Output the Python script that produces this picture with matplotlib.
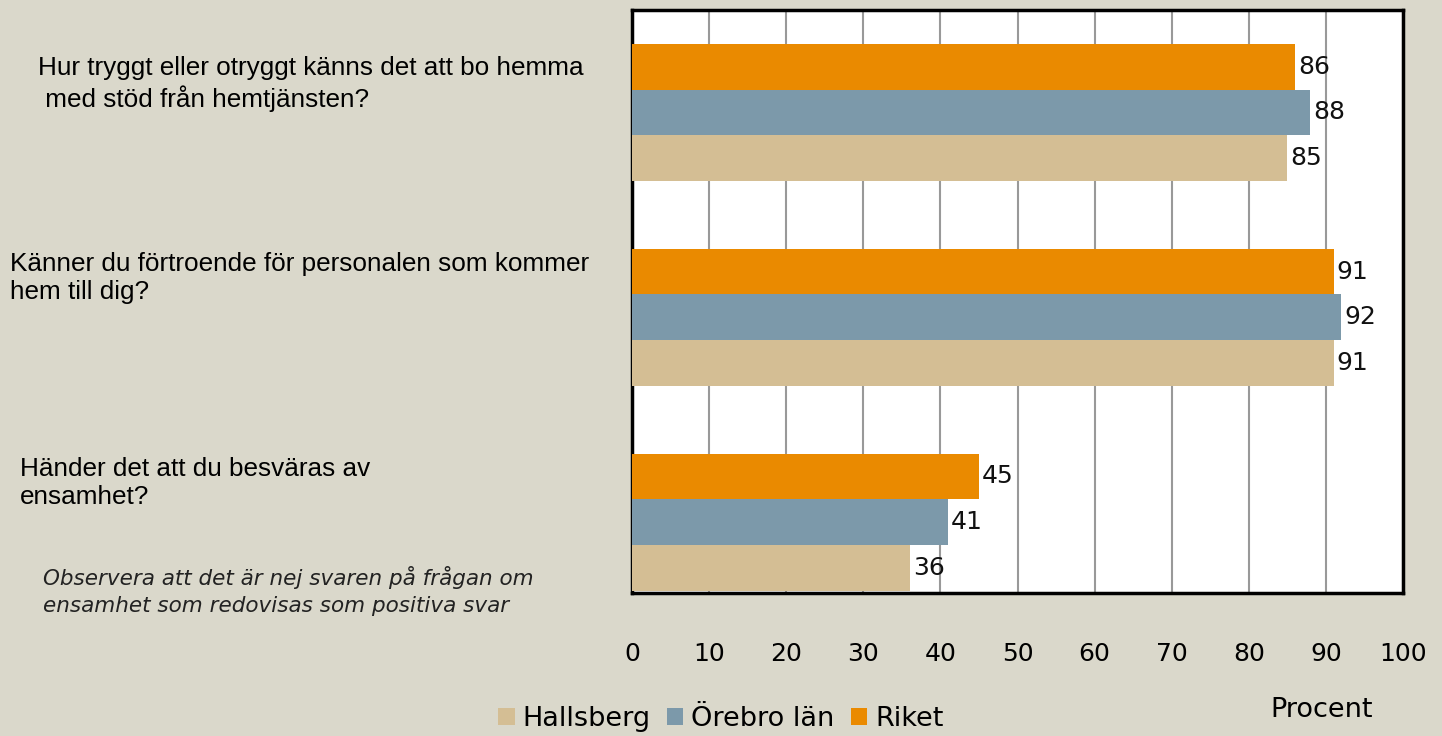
import matplotlib
matplotlib.use("Agg")
import matplotlib.pyplot as plt
import numpy as np
from matplotlib.patches import Patch

# data
questions = [
    "Hur tryggt eller otryggt känns det att bo hemma\n med stöd från hemtjänsten?",
    "Känner du förtroende för personalen som kommer\nhem till dig?",
    "Händer det att du besväras av\nensamhet?",
]
series_names = ["Hallsberg", "Örebro län", "Riket"]
hallsberg = [85, 91, 36]
orebro = [88, 92, 41]
riket = [86, 91, 45]
ticks = list(range(0, 101, 10))
note = "Observera att det är nej svaren på frågan om\nensamhet som redovisas som positiva svar"

bg = "#DAD8CB"
colors = {"Hallsberg": "#D4BE94", "Örebro län": "#7C99AA", "Riket": "#EA8A00"}
num_font = ["DejaVu Sans"]

fig = plt.figure(figsize=(14.42, 7.36), dpi=100, facecolor=bg)
ax = fig.add_axes([632 / 1442, 1 - 593 / 736, 771 / 1442, 583 / 736])
ax.set_facecolor("white")

y = np.arange(len(questions))
h = 0.223
series = [(riket, "Riket", -h), (orebro, "Örebro län", 0), (hallsberg, "Hallsberg", h)]
for vals, name, off in series:
    bars = ax.barh(y + off, vals, height=h, color=colors[name], zorder=3)
    for b, v in zip(bars, vals):
        ax.text(v + 0.4, b.get_y() + h / 2, str(v), va="center", ha="left",
                fontsize=18, family=num_font, color="#111111", zorder=4)

ax.set_xlim(0, 100)
ax.set_ylim(2.346, -0.5)
ax.set_xticks(ticks)
ax.set_xticklabels([str(t) for t in ticks], fontsize=18, family=num_font)
ax.tick_params(axis="x", length=0, pad=35)
ax.set_yticks([])
ax.grid(axis="x", color="#999999", linewidth=1.5, zorder=0)
for s in ax.spines.values():
    s.set_linewidth(2.5)
    s.set_color("black")

# questions on the left
qpos = [(38, 84), (10, 278), (20, 483)]
for q, (px, py) in zip(questions, qpos):
    fig.text(px / 1442, 1 - py / 736, q, ha="left", va="center",
             fontsize=18.8, family="Liberation Sans", linespacing=1.2)

fig.text(43 / 1442, 1 - 591 / 736, note, ha="left", va="center", style="italic",
         fontsize=15.5, family=num_font, linespacing=1.45, color="#222222")

fig.text(1322 / 1442, 1 - 710 / 736, "Procent", ha="center", va="center",
         fontsize=19.5, family=num_font)

handles = [Patch(facecolor=colors[n], edgecolor="none") for n in series_names]
fig.legend(handles, series_names, loc="center", bbox_to_anchor=(721 / 1442, 1 - 719 / 736),
           ncol=3, frameon=False, prop={"family": num_font, "size": 19.5},
           handlelength=0.6, handleheight=0.6, handletextpad=0.3, columnspacing=0.6)

fig.savefig("out.png", dpi=100, facecolor=bg)
